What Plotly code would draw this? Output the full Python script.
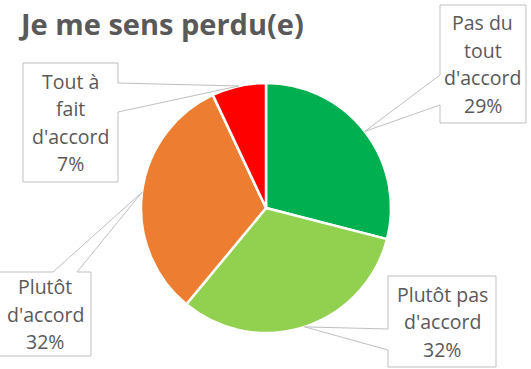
import math
import plotly.graph_objects as go

W, H = 531, 369

# ---- data ----
categories = ["Pas du tout d'accord", "Plutôt pas d'accord", "Plutôt d'accord", "Tout à fait d'accord"]
values = [29, 32, 32, 7]
label_lines = [["Pas du", "tout", "d'accord"],
               ["Plutôt pas", "d'accord"],
               ["Plutôt", "d'accord"],
               ["Tout à", "fait", "d'accord"]]
colors = ["#00B050", "#92D050", "#ED7D31", "#FF0000"]
title = "Je me sens perdu(e)"

# ---- layout constants (pixels) ----
CX, CY, R = 266, 208, 125
# callout boxes: x0, y0, x1, y1, wedge side, wedge start, wedge end, text centre x
boxes = [
    (440, 5, 526, 123, "left", 75, 105, 483),
    (388, 276, 496, 367, "left", 329, 350, 442),
    (-8, 272, 91, 356, "top", 53, 77, 45),
    (23, 63, 118, 182, "right", 83, 112, 70.5),
]
LINE_H = 27.5
TEXT_COLOR = "#595959"
FONT = "Open Sans"


def px(x):
    return x / W


def py(y):
    return 1 - y / H


fig = go.Figure(go.Pie(
    labels=categories,
    values=values,
    sort=False,
    direction="clockwise",
    rotation=0,
    marker=dict(colors=colors, line=dict(color="white", width=2.5)),
    textinfo="none",
    hoverinfo="label+percent",
    showlegend=False,
    domain=dict(x=[px(CX - R), px(CX + R)], y=[py(CY + R), py(CY - R)]),
))

total = sum(values)
shapes = []
annotations = []
cum = 0
for i, v in enumerate(values):
    mid = (cum + v / 2) / total * 2 * math.pi
    cum += v
    tipx = CX + R * math.sin(mid)
    tipy = CY - R * math.cos(mid)
    x0, y0, x1, y1, side, a, b, bx = boxes[i]
    if side == "left":
        pts = [(x0, y0), (x1, y0), (x1, y1), (x0, y1), (x0, b), (tipx, tipy), (x0, a)]
    elif side == "right":
        pts = [(x0, y0), (x1, y0), (x1, a), (tipx, tipy), (x1, b), (x1, y1), (x0, y1)]
    else:  # top
        pts = [(x0, y0), (a, y0), (tipx, tipy), (b, y0), (x1, y0), (x1, y1), (x0, y1)]
    path = "M " + " L ".join(f"{px(x):.5f},{py(y):.5f}" for x, y in pts) + " Z"
    shapes.append(dict(type="path", xref="paper", yref="paper", path=path,
                       fillcolor="white", line=dict(color="#BFBFBF", width=1)))
    lines = label_lines[i] + [f"{round(v / total * 100)}%"]
    bcy = (y0 + y1) / 2
    n = len(lines)
    for k, t in enumerate(lines):
        ly = bcy + (k - (n - 1) / 2) * LINE_H
        annotations.append(dict(text=t, x=px(bx), y=py(ly), xref="paper", yref="paper",
                                xanchor="center", yanchor="middle", showarrow=False,
                                font=dict(family=FONT, size=19.5, color=TEXT_COLOR)))

annotations.append(dict(text=f"<b>{title}</b>", x=px(16), y=py(23), xref="paper", yref="paper",
                        xanchor="left", yanchor="middle", showarrow=False,
                        font=dict(family=FONT, size=29, color=TEXT_COLOR)))

fig.update_layout(
    width=W, height=H,
    margin=dict(l=0, r=0, t=0, b=0),
    paper_bgcolor="white",
    plot_bgcolor="white",
    shapes=shapes,
    annotations=annotations,
)

fig.write_html("out.html",
               config={"displayModeBar": False},
               post_script="document.body.style.margin='0';document.body.style.overflow='hidden';")
